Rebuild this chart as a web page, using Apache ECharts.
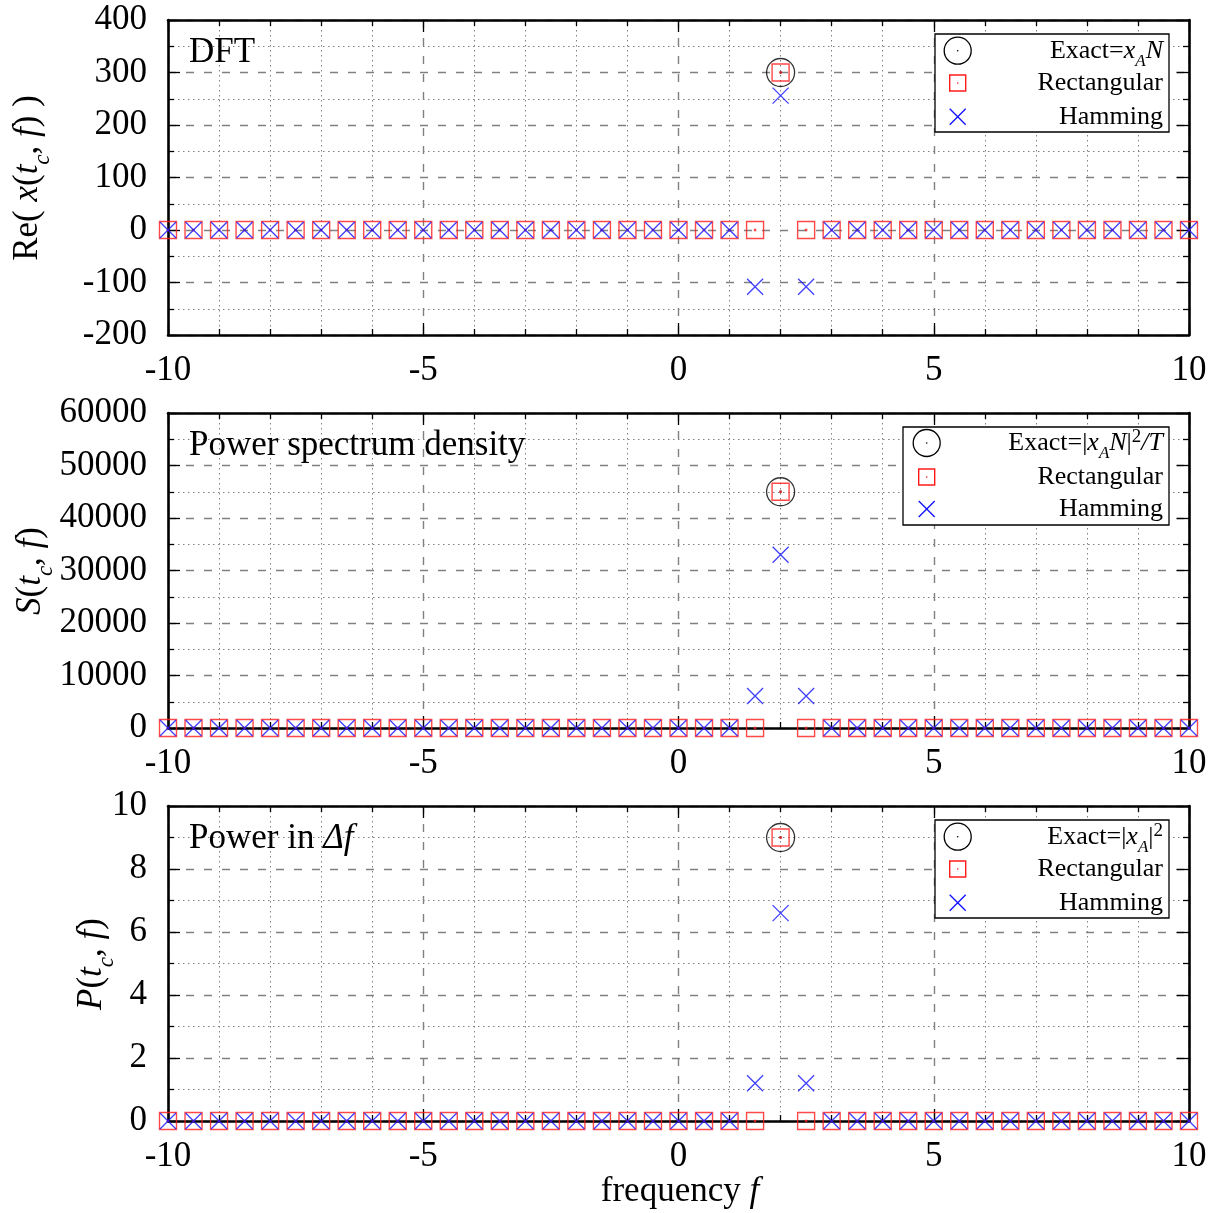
<!DOCTYPE html>
<html>
<head>
<meta charset="utf-8">
<script src="https://cdn.jsdelivr.net/npm/echarts@6/dist/echarts.min.js"></script>
<style>
  html, body { margin: 0; padding: 0; background: #fff; }
  #chart { width: 1221px; height: 1213px; }
</style>
</head>
<body>
<div id="chart"></div>
<script>
// Frequency bins (f), step 0.5
const freq = [-10, -9.5, -9, -8.5, -8, -7.5, -7, -6.5, -6, -5.5, -5, -4.5, -4, -3.5, -3, -2.5, -2, -1.5, -1, -0.5,
  0, 0.5, 1, 1.5, 2, 2.5, 3, 3.5, 4, 4.5, 5, 5.5, 6, 6.5, 7, 7.5, 8, 8.5, 9, 9.5, 10];

// Re( x(t_c, f) )
const dftRect = [0, 0, 0, 0, 0, 0, 0, 0, 0, 0, 0, 0, 0, 0, 0, 0, 0, 0, 0, 0,
  0, 0, 0, 0, 300, 0, 0, 0, 0, 0, 0, 0, 0, 0, 0, 0, 0, 0, 0, 0, 0];
const dftHamming = [0, 0, 0, 0, 0, 0, 0, 0, 0, 0, 0, 0, 0, 0, 0, 0, 0, 0, 0, 0,
  0, 0, 0, -108, 256, -108, 0, 0, 0, 0, 0, 0, 0, 0, 0, 0, 0, 0, 0, 0, 0];

// S(t_c, f)
const psdRect = [0, 0, 0, 0, 0, 0, 0, 0, 0, 0, 0, 0, 0, 0, 0, 0, 0, 0, 0, 0,
  0, 0, 0, 0, 45000, 0, 0, 0, 0, 0, 0, 0, 0, 0, 0, 0, 0, 0, 0, 0, 0];
const psdHamming = [0, 0, 0, 0, 0, 0, 0, 0, 0, 0, 0, 0, 0, 0, 0, 0, 0, 0, 0, 0,
  0, 0, 0, 6100, 33000, 6100, 0, 0, 0, 0, 0, 0, 0, 0, 0, 0, 0, 0, 0, 0, 0];

// P(t_c, f)
const powRect = [0, 0, 0, 0, 0, 0, 0, 0, 0, 0, 0, 0, 0, 0, 0, 0, 0, 0, 0, 0,
  0, 0, 0, 0, 9, 0, 0, 0, 0, 0, 0, 0, 0, 0, 0, 0, 0, 0, 0, 0, 0];
const powHamming = [0, 0, 0, 0, 0, 0, 0, 0, 0, 0, 0, 0, 0, 0, 0, 0, 0, 0, 0, 0,
  0, 0, 0, 1.2, 6.6, 1.2, 0, 0, 0, 0, 0, 0, 0, 0, 0, 0, 0, 0, 0, 0, 0];

// Exact values (single line at f = 2)
const exactFreq = [2];
const dftExact = [300];
const psdExact = [45000];
const powExact = [9];

// Axis ranges
const xRange = { min: -10, max: 10, interval: 5 };
const yRanges = [
  { min: -200, max: 400, interval: 100 },
  { min: 0, max: 60000, interval: 10000 },
  { min: 0, max: 10, interval: 2 }
];

const FONT = 'Liberation Serif';
const FS = 35;
const GRID_LEFT = 168, GRID_W = 1021, GRID_H = 315;
const gridTops = [20, 413, 806];

const SYM_SQUARE = 'path://M0,0L16,0L16,16L0,16Z M7.5,7.5L8.5,7.5L8.5,8.5L7.5,8.5Z';
const SYM_CROSS = 'path://M0,0L16,16M16,0L0,16';
const SYM_CIRCLE = 'path://M0,14A14,14,0,1,1,28,14A14,14,0,1,1,0,14Z M13.5,14A0.5,0.5,0,1,1,14.5,14A0.5,0.5,0,1,1,13.5,14Z';

const majorGrid = { show: true, lineStyle: { color: '#808080', width: 1.4, type: [8, 10] } };
const minorGrid = { show: true, lineStyle: { color: '#808080', width: 1, type: [1.5, 3.5] } };
const boxLine = { show: true, onZero: false, lineStyle: { color: '#000', width: 2.6 } };
const tick = { show: true, inside: true, length: 12, lineStyle: { color: '#000', width: 1.3 } };
const minorTick = { show: true, inside: true, length: 6, splitNumber: 5, lineStyle: { color: '#000', width: 1.3 } };

const grid = gridTops.map(t => ({ left: GRID_LEFT, top: t, width: GRID_W, height: GRID_H }));

const xAxis = [];
const yAxis = [];
gridTops.forEach((t, g) => {
  xAxis.push({
    type: 'value', gridIndex: g, position: 'bottom', ...xRange,
    axisLine: boxLine, axisTick: tick, minorTick: minorTick,
    splitLine: majorGrid, minorSplitLine: minorGrid,
    axisLabel: { show: true, margin: 18, fontFamily: FONT, fontSize: FS, color: '#000', formatter: v => String(v) }
  });
  xAxis.push({
    type: 'value', gridIndex: g, position: 'top', ...xRange,
    axisLine: boxLine, axisTick: tick, minorTick: minorTick,
    splitLine: { show: false }, axisLabel: { show: false }
  });
  const yr = yRanges[g];
  const yMinor = { ...minorTick, splitNumber: 2 };
  yAxis.push({
    type: 'value', gridIndex: g, position: 'left', min: yr.min, max: yr.max, interval: yr.interval,
    axisLine: boxLine, axisTick: tick, minorTick: yMinor,
    splitLine: majorGrid, minorSplitLine: minorGrid,
    axisLabel: { show: true, margin: 21, fontFamily: FONT, fontSize: FS, color: '#000', formatter: v => String(v) }
  });
  yAxis.push({
    type: 'value', gridIndex: g, position: 'right', min: yr.min, max: yr.max, interval: yr.interval,
    axisLine: boxLine, axisTick: tick, minorTick: yMinor,
    splitLine: { show: false }, axisLabel: { show: false }
  });
});

const pairs = (xs, ys) => xs.map((x, i) => [x, ys[i]]);

function panelSeries(g, exact, rect, hamming) {
  const common = { type: 'scatter', xAxisIndex: 2 * g, yAxisIndex: 2 * g, clip: false, silent: true, animation: false };
  return [
    { ...common, name: 'Exact', symbol: SYM_CIRCLE, symbolSize: 28, data: pairs(exactFreq, exact),
      itemStyle: { color: 'rgba(0,0,0,0)', borderColor: '#000', borderWidth: 1.3 }, z: 3 },
    { ...common, name: 'Rectangular', symbol: SYM_SQUARE, symbolSize: 17, data: pairs(freq, rect),
      itemStyle: { color: 'rgba(0,0,0,0)', borderColor: '#ff1a1a', borderWidth: 1.4 }, z: 4 },
    { ...common, name: 'Hamming', symbol: SYM_CROSS, symbolSize: 16, data: pairs(freq, hamming),
      itemStyle: { color: 'rgba(0,0,0,0)', borderColor: '#1010ff', borderWidth: 1.3 }, z: 5 }
  ];
}

const series = [
  ...panelSeries(0, dftExact, dftRect, dftHamming),
  ...panelSeries(1, psdExact, psdRect, psdHamming),
  ...panelSeries(2, powExact, powRect, powHamming)
];

// Rich-text styles for italics, subscripts and superscripts.
// The token box height shifts sub/superscripts within the line box.
function richStyles(size) {
  return {
    i: { fontFamily: FONT, fontSize: size, fontStyle: 'italic', color: '#000' },
    sub: { fontFamily: FONT, fontSize: Math.round(size * 0.66), fontStyle: 'italic', color: '#000',
      verticalAlign: 'bottom', height: Math.round(size * 0.32) },
    sup: { fontFamily: FONT, fontSize: Math.round(size * 0.74), color: '#000',
      verticalAlign: 'top', height: Math.round(size * 0.68) }
  };
}

function textEl(x, y, text, size, opts) {
  return Object.assign({
    type: 'text', x: x, y: y, z: 120, silent: true,
    style: {
      text: text, fontFamily: FONT, fontSize: size, fill: '#000',
      align: 'left', verticalAlign: 'middle', lineHeight: Math.round(size * 1.15),
      rich: richStyles(size)
    }
  }, opts || {});
}

function legendBox(x0, y0, x1, rows, iconX, label0) {
  const els = [];
  els.push({ type: 'rect', z: 110, silent: true, shape: { x: x0, y: y0, width: x1 - x0, height: 98 },
    style: { fill: '#fff', stroke: '#000', lineWidth: 1.3 } });
  // circle with centre dot
  els.push({ type: 'circle', z: 115, silent: true, shape: { cx: iconX, cy: rows[0], r: 13.5 },
    style: { fill: 'none', stroke: '#000', lineWidth: 1.3 } });
  els.push({ type: 'circle', z: 115, silent: true, shape: { cx: iconX, cy: rows[0], r: 0.8 },
    style: { fill: '#000' } });
  // square with centre dot
  els.push({ type: 'rect', z: 115, silent: true, shape: { x: iconX - 8, y: rows[1] - 8, width: 16, height: 16 },
    style: { fill: 'none', stroke: '#ff1a1a', lineWidth: 1.4 } });
  els.push({ type: 'circle', z: 115, silent: true, shape: { cx: iconX, cy: rows[1], r: 0.8 },
    style: { fill: '#ff1a1a' } });
  // cross
  els.push({ type: 'line', z: 115, silent: true, shape: { x1: iconX - 8, y1: rows[2] - 8, x2: iconX + 8, y2: rows[2] + 8 },
    style: { stroke: '#1010ff', lineWidth: 1.3 } });
  els.push({ type: 'line', z: 115, silent: true, shape: { x1: iconX + 8, y1: rows[2] - 8, x2: iconX - 8, y2: rows[2] + 8 },
    style: { stroke: '#1010ff', lineWidth: 1.3 } });
  const tx = 1163;
  const labels = [label0, 'Rectangular', 'Hamming'];
  labels.forEach((l, k) => {
    const el = textEl(tx, rows[k], l, 26);
    el.style.align = 'right';
    els.push(el);
  });
  return els;
}

const graphic = [
  // panel titles
  textEl(189, 53, 'DFT', FS),
  textEl(189, 446, 'Power spectrum density', FS),
  textEl(189, 839, 'Power in {i|Δf}', FS),
  // axis titles
  textEl(28, 178, 'Re( {i|x}({i|t}{sub|c}, {i|f}) )', FS, { rotation: Math.PI / 2 }),
  textEl(31, 571, '{i|S}({i|t}{sub|c}, {i|f})', FS, { rotation: Math.PI / 2 }),
  textEl(92, 964, '{i|P}({i|t}{sub|c}, {i|f})', FS, { rotation: Math.PI / 2 }),
  textEl(680, 1192, 'frequency {i|f}', FS),
  ...legendBox(935, 34, 1169, [50.7, 83, 116.7], 957.7, 'Exact={i|x}{sub|A}{i|N}'),
  ...legendBox(903, 427, 1169, [443, 477, 509], 926.7, 'Exact=|{i|x}{sub|A}{i|N}|{sup|2}{i|/T}'),
  ...legendBox(935, 820, 1169, [836.7, 869, 902.7], 957.7, 'Exact=|{i|x}{sub|A}|{sup|2}')
];
// centre the rotated and bottom titles on their anchor points
[3, 4, 5, 6].forEach(k => { graphic[k].style.align = 'center'; });

const chart = echarts.init(document.getElementById('chart'), null, { renderer: 'canvas' });
chart.setOption({
  animation: false,
  backgroundColor: '#fff',
  grid: grid,
  xAxis: xAxis,
  yAxis: yAxis,
  series: series,
  graphic: graphic
});
</script>
</body>
</html>
